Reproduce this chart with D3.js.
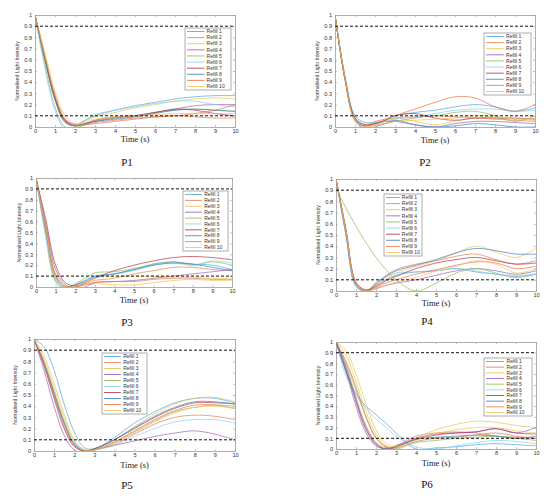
<!DOCTYPE html>
<html><head><meta charset="utf-8">
<script src="https://cdn.jsdelivr.net/npm/d3@7"></script>
<style>body{margin:0;background:#fff}svg{display:block}</style>
</head><body><svg id="c" width="550" height="499"></svg>
<script>
// ---------- data ----------
const times = [0, 0.5, 1, 1.5, 2, 2.5, 3, 4, 5, 6, 7, 8, 9, 10];
const seriesNames = ["Refill 1","Refill 2","Refill 3","Refill 4","Refill 5","Refill 6","Refill 7","Refill 8","Refill 9","Refill 10"];
const panelNames = ["P1","P2","P3","P4","P5","P6"];
const xTicks = [0,1,2,3,4,5,6,7,8,9,10];
const yTicks = [0,0.1,0.2,0.3,0.4,0.5,0.6,0.7,0.8,0.9,1];
const thresholds = [0.9, 0.1];

const p1Values = [
  [1,0.62,0.27,0.06,0.02,0.06,0.10,0.15,0.19,0.22,0.25,0.27,0.28,0.28],
  [1,0.60,0.25,0.05,0.01,0.02,0.04,0.06,0.08,0.09,0.10,0.09,0.08,0.08],
  [1,0.66,0.32,0.10,0.03,0.05,0.09,0.13,0.17,0.20,0.23,0.25,0.26,0.25],
  [1,0.60,0.25,0.05,0.01,0.03,0.05,0.08,0.10,0.13,0.16,0.19,0.20,0.20],
  [1,0.55,0.18,0.00,-0.01,0.02,0.05,0.08,0.10,0.13,0.15,0.16,0.15,0.14],
  [1,0.52,0.15,-0.02,0.00,0.06,0.11,0.15,0.18,0.21,0.23,0.23,0.20,0.18],
  [1,0.62,0.27,0.06,0.02,0.03,0.06,0.09,0.10,0.13,0.16,0.15,0.12,0.10],
  [1,0.60,0.24,0.04,0.01,0.03,0.05,0.07,0.09,0.12,0.15,0.16,0.15,0.14],
  [1,0.63,0.28,0.07,0.02,0.02,0.03,0.05,0.07,0.09,0.10,0.12,0.15,0.20],
  [1,0.64,0.30,0.08,0.02,0.04,0.07,0.09,0.10,0.11,0.12,0.12,0.12,0.12]
];
const p2Values = [
  [1,0.45,0.10,0.04,0.04,0.06,0.10,0.13,0.15,0.18,0.20,0.18,0.14,0.17],
  [1,0.42,0.06,0.00,0.02,0.03,0.05,0.08,0.10,0.09,0.08,0.07,0.06,0.05],
  [1,0.42,0.05,-0.02,0.02,0.06,0.08,0.05,0.02,0.05,0.08,0.08,0.07,0.06],
  [1,0.43,0.07,0.01,0.03,0.05,0.05,0.02,0.00,0.03,0.05,0.05,0.04,0.03],
  [1,0.44,0.08,0.02,0.03,0.05,0.08,0.09,0.10,0.13,0.14,0.10,0.05,0.10],
  [1,0.46,0.10,0.04,0.04,0.05,0.07,0.09,0.12,0.15,0.16,0.16,0.14,0.15],
  [1,0.43,0.08,0.02,0.03,0.06,0.10,0.12,0.08,0.06,0.08,0.08,0.08,0.07],
  [1,0.44,0.07,-0.02,0.00,0.03,0.06,0.02,0.00,0.01,0.03,0.02,0.00,0.00],
  [1,0.43,0.06,0.01,0.05,0.07,0.10,0.16,0.22,0.27,0.26,0.18,0.14,0.20],
  [1,0.44,0.06,0.00,0.01,0.03,0.05,0.06,0.07,0.08,0.10,0.09,0.07,0.08]
];
const p3Values = [
  [1,0.50,0.08,-0.01,0.02,0.06,0.10,0.12,0.16,0.21,0.23,0.21,0.20,0.16],
  [1,0.55,0.12,0.01,0.01,0.03,0.06,0.08,0.12,0.15,0.18,0.18,0.16,0.15],
  [1,0.50,0.06,-0.03,0.00,0.02,0.03,0.02,0.02,0.04,0.06,0.07,0.06,0.06],
  [1,0.58,0.16,0.02,-0.02,0.00,0.04,0.05,0.06,0.08,0.10,0.12,0.14,0.16],
  [1,0.48,0.06,-0.01,0.03,0.08,0.13,0.14,0.17,0.21,0.23,0.20,0.23,0.20],
  [1,0.45,0.04,-0.02,0.02,0.06,0.10,0.12,0.15,0.20,0.22,0.20,0.24,0.22],
  [1,0.62,0.20,0.04,0.01,0.04,0.08,0.15,0.20,0.24,0.27,0.28,0.27,0.25],
  [1,0.52,0.10,0.00,0.02,0.05,0.09,0.12,0.16,0.20,0.22,0.21,0.18,0.15],
  [1,0.55,0.10,0.00,0.00,0.02,0.04,0.05,0.05,0.07,0.08,0.08,0.07,0.07],
  [1,0.53,0.09,0.00,0.01,0.04,0.08,0.10,0.10,0.10,0.09,0.09,0.08,0.08]
];
const p4Values = [
  [1,0.50,0.04,0.00,0.05,0.10,0.14,0.17,0.18,0.20,0.17,0.15,0.13,0.15],
  [1,0.52,0.06,0.00,0.07,0.14,0.19,0.24,0.27,0.31,0.33,0.28,0.24,0.27],
  [1,0.54,0.07,0.01,0.05,0.11,0.16,0.22,0.27,0.34,0.40,0.35,0.30,0.38],
  [1,0.50,0.05,0.00,0.02,0.05,0.07,0.10,0.14,0.18,0.20,0.18,0.15,0.18],
  [0.92,0.74,0.58,0.43,0.30,0.19,0.10,0.00,0.07,0.16,0.20,0.16,0.12,0.15],
  [1,0.50,0.04,0.00,0.08,0.13,0.16,0.17,0.18,0.20,0.18,0.15,0.14,0.15],
  [1,0.55,0.08,0.01,0.04,0.09,0.13,0.20,0.25,0.28,0.30,0.27,0.24,0.25],
  [1,0.53,0.06,0.00,0.06,0.13,0.18,0.23,0.28,0.34,0.38,0.36,0.33,0.33],
  [1,0.54,0.07,0.00,0.03,0.07,0.10,0.15,0.19,0.23,0.26,0.25,0.20,0.22],
  [1,0.53,0.06,0.00,0.02,0.05,0.08,0.12,0.18,0.22,0.27,0.24,0.16,0.20]
];
const p5Values = [
  [1,0.93,0.72,0.42,0.17,0.03,0.02,0.12,0.25,0.35,0.43,0.47,0.47,0.43],
  [1,0.78,0.52,0.26,0.07,0.00,0.01,0.06,0.15,0.24,0.30,0.32,0.31,0.28],
  [1,0.85,0.60,0.33,0.10,0.01,0.02,0.10,0.22,0.33,0.42,0.47,0.48,0.44],
  [1,0.72,0.40,0.14,0.01,-0.02,0.01,0.05,0.09,0.13,0.16,0.18,0.15,0.10],
  [1,0.78,0.50,0.24,0.06,0.00,0.01,0.08,0.17,0.27,0.35,0.39,0.41,0.40],
  [1,0.80,0.53,0.27,0.08,0.01,0.01,0.05,0.13,0.20,0.26,0.28,0.28,0.25],
  [1,0.76,0.47,0.20,0.04,0.00,0.02,0.10,0.20,0.30,0.38,0.43,0.43,0.42],
  [1,0.79,0.52,0.25,0.06,0.00,0.02,0.10,0.21,0.31,0.39,0.44,0.44,0.42],
  [1,0.77,0.49,0.22,0.05,0.00,0.01,0.08,0.18,0.28,0.36,0.41,0.41,0.38],
  [1,0.82,0.56,0.30,0.09,0.01,0.01,0.07,0.16,0.26,0.34,0.39,0.40,0.38]
];
const p6Values = [
  [1,0.72,0.52,0.40,0.32,0.24,0.15,0.00,0.01,0.02,0.04,0.05,0.04,0.03],
  [1,0.78,0.48,0.22,0.06,0.01,0.03,0.12,0.15,0.16,0.15,0.12,0.10,0.08],
  [1,0.88,0.63,0.35,0.14,0.03,0.02,0.10,0.18,0.23,0.26,0.25,0.22,0.20],
  [1,0.72,0.40,0.15,0.03,0.00,0.03,0.10,0.14,0.15,0.16,0.19,0.15,0.20],
  [1,0.80,0.55,0.30,0.11,0.02,0.00,0.06,0.08,0.10,0.11,0.12,0.11,0.10],
  [1,0.68,0.50,0.38,0.28,0.20,0.12,0.02,0.00,0.03,0.06,0.08,0.07,0.05],
  [1,0.74,0.44,0.18,0.04,0.00,0.02,0.09,0.13,0.15,0.16,0.19,0.15,0.14],
  [1,0.76,0.46,0.20,0.05,0.00,0.02,0.09,0.11,0.12,0.13,0.12,0.10,0.12],
  [1,0.82,0.58,0.30,0.10,0.02,0.01,0.07,0.10,0.11,0.13,0.15,0.12,0.10],
  [1,0.92,0.70,0.42,0.18,0.05,0.02,0.08,0.14,0.18,0.20,0.20,0.17,0.15]
];
const panelValues = [p1Values, p2Values, p3Values, p4Values, p5Values, p6Values];

// ---------- styling / layout ----------
const palette = ["#4aa3df","#e8774a","#efc04a","#9a5ab0","#86bb4a","#7fd0f0","#b32a48","#2f7fc4","#ef6a40","#f2c24e"];
const layout = [
  {x0:35,x1:235,y0:127,y1:15, lg:{x:185,y:28,w:46,h:62},  ylx:17,  tY:139, lX:127, lY:162},
  {x0:335,x1:535,y0:127,y1:15,lg:{x:484,y:33,w:47,h:62},  ylx:317, tY:140, lX:425, lY:162},
  {x0:36,x1:232,y0:287,y1:178,lg:{x:183,y:191,w:45,h:60}, ylx:19,  tY:300, lX:127, lY:322},
  {x0:336,x1:536,y0:291,y1:179,lg:{x:384,y:194,w:38,h:62},ylx:318, tY:303, lX:427, lY:321},
  {x0:34,x1:235,y0:451,y1:339,lg:{x:102,y:353,w:45,h:61}, ylx:15,  tY:465, lX:127, lY:485},
  {x0:336,x1:536,y0:449,y1:342,lg:{x:484,y:358,w:48,h:58},ylx:318, tY:463, lX:427, lY:484}
];

const svg = d3.select("#c");
svg.append("rect").attr("width",550).attr("height",499).attr("fill","#fff");
const defs = svg.append("defs");
const sans = "'Liberation Sans', Arial, sans-serif";
const serif = "'Liberation Serif', 'Times New Roman', serif";

layout.forEach((L, pi) => {
  const x = d3.scaleLinear().domain([0,10]).range([L.x0, L.x1]);
  const y = d3.scaleLinear().domain([0,1]).range([L.y0, L.y1]);
  const g = svg.append("g");

  const cid = "clip"+pi;
  defs.append("clipPath").attr("id",cid).append("rect")
    .attr("x",L.x0).attr("y",L.y1-1).attr("width",L.x1-L.x0).attr("height",L.y0-L.y1+1);

  const fmt = d => d===0?"0":(d===1?"1":d3.format(".1f")(d));
  const ax = (gen, tr) => {
    const a = g.append("g").attr("transform",tr).call(gen);
    a.selectAll(".domain").attr("stroke","#9a9a9a").attr("stroke-width",0.8);
    a.selectAll(".tick line").attr("stroke","#9a9a9a").attr("stroke-width",0.6);
    a.selectAll("text").attr("font-family",sans).attr("font-size",5.6).attr("fill","#333");
    return a;
  };
  ax(d3.axisBottom(x).tickValues(xTicks).tickSize(-2).tickPadding(2).tickSizeOuter(0), `translate(0,${L.y0})`);
  ax(d3.axisTop(x).tickValues(xTicks).tickSize(-2).tickFormat("").tickSizeOuter(0), `translate(0,${L.y1})`);
  ax(d3.axisLeft(y).tickValues(yTicks).tickSize(-2).tickPadding(3).tickFormat(fmt).tickSizeOuter(0), `translate(${L.x0},0)`);
  ax(d3.axisRight(y).tickValues(yTicks).tickSize(-2).tickFormat("").tickSizeOuter(0), `translate(${L.x1},0)`);

  const line = d3.line().x((d,i)=>x(times[i])).y(d=>y(d)).curve(d3.curveCatmullRom.alpha(0.5));
  const lg = g.append("g").attr("clip-path",`url(#${cid})`);
  panelValues[pi].forEach((vals, si) => {
    lg.append("path").attr("d", line(vals)).attr("fill","none")
      .attr("stroke", palette[si]).attr("stroke-width",0.9).attr("stroke-opacity",0.75);
  });

  thresholds.forEach(t => {
    g.append("line").attr("x1",x(0)).attr("x2",x(10)).attr("y1",y(t)).attr("y2",y(t))
      .attr("stroke","#111").attr("stroke-width",1).attr("stroke-dasharray","3,2");
  });

  const b = L.lg;
  const lgd = g.append("g");
  lgd.append("rect").attr("x",b.x).attr("y",b.y).attr("width",b.w).attr("height",b.h)
    .attr("fill","#fff").attr("stroke","#777").attr("stroke-width",0.6);
  const step = (b.h-7)/9;
  seriesNames.forEach((nm, si) => {
    const yy = b.y + 3.5 + si*step;
    lgd.append("line").attr("x1",b.x+2).attr("x2",b.x+b.w*0.42).attr("y1",yy).attr("y2",yy)
      .attr("stroke",palette[si]).attr("stroke-width",1).attr("stroke-opacity",0.8);
    lgd.append("text").attr("x",b.x+b.w*0.47).attr("y",yy).attr("dy","0.35em")
      .attr("font-family",sans).attr("font-size",5).attr("fill","#333").text(nm);
  });

  g.append("text").attr("x",(L.x0+L.x1)/2).attr("y",L.tY).attr("dy","0.35em").attr("text-anchor","middle")
    .attr("font-family",serif).attr("font-size",8.5).attr("fill","#222").text("Time (s)");
  g.append("text").attr("transform",`translate(${L.ylx},${(L.y0+L.y1)/2}) rotate(-90)`).attr("dy","0.35em")
    .attr("text-anchor","middle").attr("font-family",sans).attr("font-size",5.2)
    .attr("fill","#333").text("Normalised Light Intensity");
  g.append("text").attr("x",L.lX).attr("y",L.lY).attr("dy","0.35em").attr("text-anchor","middle")
    .attr("font-family",serif).attr("font-size",11).attr("fill","#111").text(panelNames[pi]);
});
</script></body></html>
